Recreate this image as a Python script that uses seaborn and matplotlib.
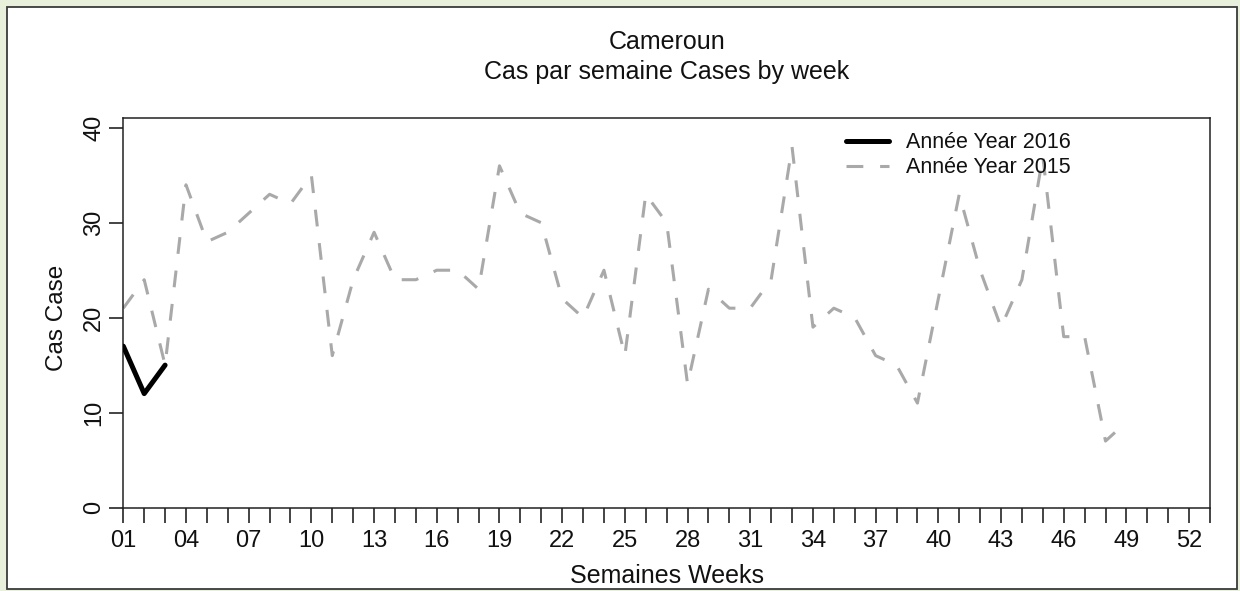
import numpy as np
import pandas as pd
import matplotlib
matplotlib.use("Agg")
import matplotlib.pyplot as plt
import seaborn as sns
from matplotlib.patches import Rectangle

# --- Data ---
weeks_2015 = list(range(1, 50))
cases_2015 = [21, 24, 15, 34, 28, 29, 31, 33, 32, 35,
              16, 24, 29, 24, 24, 25, 25, 23, 36, 31,
              30, 22, 20, 25, 16, 33, 30, 13, 23, 21,
              21, 24, 38, 19, 21, 20, 16, 15, 11, 22,
              33, 25, 19, 24, 37, 18, 18, 7, 9]
weeks_2016 = [1, 2, 3]
cases_2016 = [17, 12, 15]

week_ticks = list(range(1, 54))
y_ticks = [0, 10, 20, 30, 40]

TITLE = "Cameroun"
SUBTITLE = "Cas par semaine Cases by week"
XLABEL = "Semaines Weeks"
YLABEL = "Cas Case"
LABEL_2016 = "Année Year 2016"
LABEL_2015 = "Année Year 2015"

# --- Style ---
COLOR_PAGE = "#E8F0DC"
COLOR_TEXT = "#111111"
COLOR_2016 = "#000000"
COLOR_2015 = "#A9A9A9"

sns.set_style("ticks")
plt.rcParams['font.family'] = ['Liberation Sans', 'DejaVu Sans']
plt.rcParams['text.color'] = COLOR_TEXT
plt.rcParams['axes.labelcolor'] = COLOR_TEXT
plt.rcParams['xtick.color'] = COLOR_TEXT
plt.rcParams['ytick.color'] = COLOR_TEXT

W, H = 1240, 591
fig = plt.figure(figsize=(W / 100, H / 100), dpi=100, facecolor=COLOR_PAGE)

# white panel with dark border
panel = Rectangle((7 / W, 1 - 589 / H), 1230 / W, 582 / H, transform=fig.transFigure,
                  facecolor="white", edgecolor="#3a3a3a", linewidth=1.3, zorder=-5)
fig.patches.append(panel)

left, right = 123.3 / W, 1210 / W
bottom, top = 1 - 507.5 / H, 1 - 117.7 / H
ax = fig.add_axes([left, bottom, right - left, top - bottom])
ax.set_zorder(2)
ax.set_facecolor("white")

df15 = pd.DataFrame({"week": weeks_2015, "cases": cases_2015})
df16 = pd.DataFrame({"week": weeks_2016, "cases": cases_2016})

sns.lineplot(data=df15, x="week", y="cases", ax=ax, color=COLOR_2015,
             linewidth=2.2, zorder=2)
l15 = ax.lines[-1]
l15.set_dashes((5.5, 5.5))
l15.set_dash_capstyle("butt")
sns.lineplot(data=df16, x="week", y="cases", ax=ax, color=COLOR_2016,
             linewidth=3.6, zorder=3)
l16 = ax.lines[-1]

ax.set_xlim(1, 53)
ax.set_ylim(0, 41.07)
ax.set_xticks(week_ticks)
ax.set_xticklabels([f"{w:02d}" if (w - 1) % 3 == 0 and w <= 52 else "" for w in week_ticks],
                   fontsize=17)
ax.set_yticks(y_ticks)
ax.set_yticklabels([str(v) for v in y_ticks], fontsize=17, rotation=90, va="center")
ax.tick_params(axis="x", length=10.5, width=1.1, pad=6)
ax.tick_params(axis="y", length=10, width=1.1, pad=3)
for s in ax.spines.values():
    s.set_linewidth(1.1)
    s.set_color("#222222")

ax.set_xlabel("")
ax.set_ylabel("")
fig.text(0.5 * (left + right), 1 - 576 / H, XLABEL, ha="center", va="center", fontsize=18)
fig.text(57 / W, 0.5 * (bottom + 1 - 128 / H), YLABEL, ha="center", va="center",
         rotation=90, fontsize=17.5)
fig.text(0.5 * (left + right), 1 - 42 / H, TITLE, ha="center", va="center", fontsize=18)
fig.text(0.5 * (left + right), 1 - 72 / H, SUBTITLE, ha="center", va="center", fontsize=18)

leg = ax.legend([l16, l15], [LABEL_2016, LABEL_2015], loc="upper left",
                bbox_to_anchor=(0.657, 0.985), frameon=False, fontsize=15.5,
                handlelength=2.0, handletextpad=0.8, labelspacing=0.2,
                borderaxespad=0)

fig.savefig("out.png", dpi=100, facecolor=COLOR_PAGE)
